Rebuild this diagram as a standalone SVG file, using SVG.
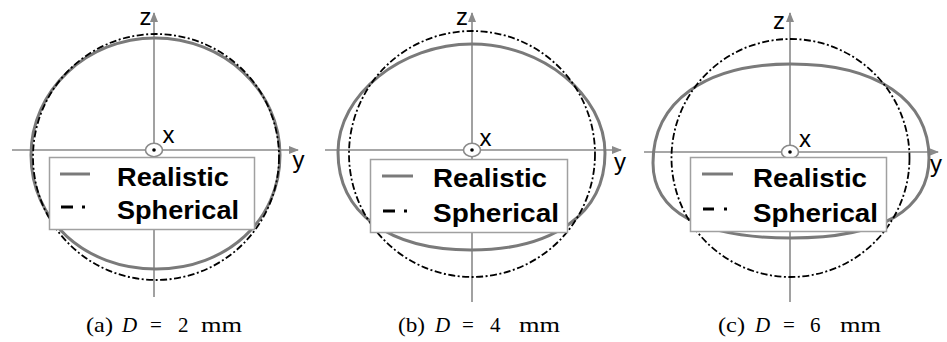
<svg xmlns="http://www.w3.org/2000/svg" width="947" height="342" viewBox="0 0 947 342">
<style>
.axis{stroke:#8a8a8a;stroke-width:1.6;fill:none}
.real{stroke:#7a7a7a;stroke-width:3;fill:none}
.sph{stroke:#000;stroke-width:1.8;fill:none;stroke-dasharray:7 2.5 2 2.5}
.box{fill:#fff;stroke:#a0a0a0;stroke-width:1.5}
.lr{stroke:#7a7a7a;stroke-width:3}
.ls{stroke:#000;stroke-width:3}
.lt{font-family:"Liberation Sans",Arial,sans-serif;font-weight:bold;font-size:26px;fill:#000}
.al{font-family:"Liberation Sans",Arial,sans-serif;font-size:24px;fill:#000}
.mk{fill:#fff;stroke:#8a8a8a;stroke-width:1.6}
.cap{font-family:"Liberation Serif","Times New Roman",serif;font-size:21px;fill:#000}
</style>
<defs>
<marker id="arr" markerUnits="userSpaceOnUse" markerWidth="10" markerHeight="10" viewBox="0 0 10 10" refX="9" refY="5" orient="auto">
<path d="M0,1 L10,5 L0,9 Z" fill="#8a8a8a"/>
</marker>
</defs>

<g id="panel-a">
<line class="axis" x1="12" y1="150" x2="298" y2="150" marker-end="url(#arr)"/>
<line class="axis" x1="154" y1="297" x2="154" y2="13" marker-end="url(#arr)"/>
<path class="real" d="M31,155 C31,90.6 86.8,38 155,38 C223.8,38 280,90.6 280,155 C280,220 226.7,269 156,269 C84.8,269 31,220 31,155 Z"/>
<circle class="sph" cx="156" cy="157" r="123"/>
<ellipse class="mk" cx="154" cy="150" rx="8.5" ry="6.7"/>
<circle cx="154" cy="150" r="1.8" fill="#000"/>
<text class="al" x="139.5" y="25">z</text>
<text class="al" x="162.5" y="143">x</text>
<text class="al" x="292.5" y="168">y</text>
<rect class="box" x="49.5" y="157.5" width="205" height="72"/>
<line class="lr" x1="60" y1="174" x2="90" y2="174"/>
<line class="ls" x1="61" y1="207" x2="73" y2="207"/>
<line class="ls" x1="82" y1="207" x2="85" y2="207"/>
<text class="lt" x="117" y="186" textLength="112" lengthAdjust="spacingAndGlyphs">Realistic</text>
<text class="lt" x="117" y="219" textLength="122" lengthAdjust="spacingAndGlyphs">Spherical</text>
<text class="cap" y="332"><tspan x="86" textLength="27" lengthAdjust="spacingAndGlyphs">(a)</tspan><tspan x="122" font-style="italic">D</tspan><tspan x="150">=</tspan><tspan x="178">2</tspan><tspan x="201" textLength="41" lengthAdjust="spacingAndGlyphs">mm</tspan></text>
</g>

<g id="panel-b">
<line class="axis" x1="325" y1="150" x2="621" y2="150" marker-end="url(#arr)"/>
<line class="axis" x1="472" y1="302" x2="472" y2="13" marker-end="url(#arr)"/>
<path class="real" d="M338,152 C338,94.8 401,44 472,44 C542.5,44 605,95.2 605,153 C605,213.1 554.1,250 471,250 C388.5,250 338,212.8 338,152 Z"/>
<circle class="sph" cx="472" cy="154" r="123"/>
<ellipse class="mk" cx="472" cy="150" rx="8.5" ry="6.7"/>
<circle cx="472" cy="150" r="1.8" fill="#000"/>
<text class="al" x="456" y="25">z</text>
<text class="al" x="479.5" y="145.5">x</text>
<text class="al" x="614" y="170">y</text>
<rect class="box" x="370.5" y="159.5" width="197" height="73"/>
<line class="lr" x1="382" y1="176" x2="413" y2="176"/>
<line class="ls" x1="383" y1="211" x2="395" y2="211"/>
<line class="ls" x1="404" y1="211" x2="407" y2="211"/>
<text class="lt" x="433" y="187" textLength="114" lengthAdjust="spacingAndGlyphs">Realistic</text>
<text class="lt" x="433" y="222" textLength="126" lengthAdjust="spacingAndGlyphs">Spherical</text>
<text class="cap" y="332"><tspan x="398" textLength="27" lengthAdjust="spacingAndGlyphs">(b)</tspan><tspan x="435" font-style="italic">D</tspan><tspan x="462">=</tspan><tspan x="490">4</tspan><tspan x="519" textLength="41" lengthAdjust="spacingAndGlyphs">mm</tspan></text>
</g>

<g id="panel-c">
<line class="axis" x1="644" y1="152" x2="938" y2="152" marker-end="url(#arr)"/>
<line class="axis" x1="790" y1="302" x2="790" y2="13" marker-end="url(#arr)"/>
<path class="real" d="M653,163 C653,101.6 705.4,64 791,64 C876.6,64 929,99.7 929,158 C929,209 883,238 791,238 C699,238 653,211 653,163 Z"/>
<circle class="sph" cx="790.5" cy="158" r="119"/>
<ellipse class="mk" cx="790" cy="152" rx="8.5" ry="6.7"/>
<circle cx="790" cy="152" r="1.8" fill="#000"/>
<text class="al" x="773" y="29">z</text>
<text class="al" x="799" y="146.5">x</text>
<text class="al" x="930" y="172">y</text>
<rect class="box" x="690.5" y="157.5" width="196" height="74"/>
<line class="lr" x1="702" y1="174" x2="733" y2="174"/>
<line class="ls" x1="703" y1="209" x2="714" y2="209"/>
<line class="ls" x1="724" y1="209" x2="727" y2="209"/>
<text class="lt" x="753" y="186.5" textLength="114" lengthAdjust="spacingAndGlyphs">Realistic</text>
<text class="lt" x="753" y="221.5" textLength="125" lengthAdjust="spacingAndGlyphs">Spherical</text>
<text class="cap" y="332"><tspan x="718" textLength="27" lengthAdjust="spacingAndGlyphs">(c)</tspan><tspan x="755" font-style="italic">D</tspan><tspan x="783">=</tspan><tspan x="810">6</tspan><tspan x="840" textLength="41" lengthAdjust="spacingAndGlyphs">mm</tspan></text>
</g>
</svg>
